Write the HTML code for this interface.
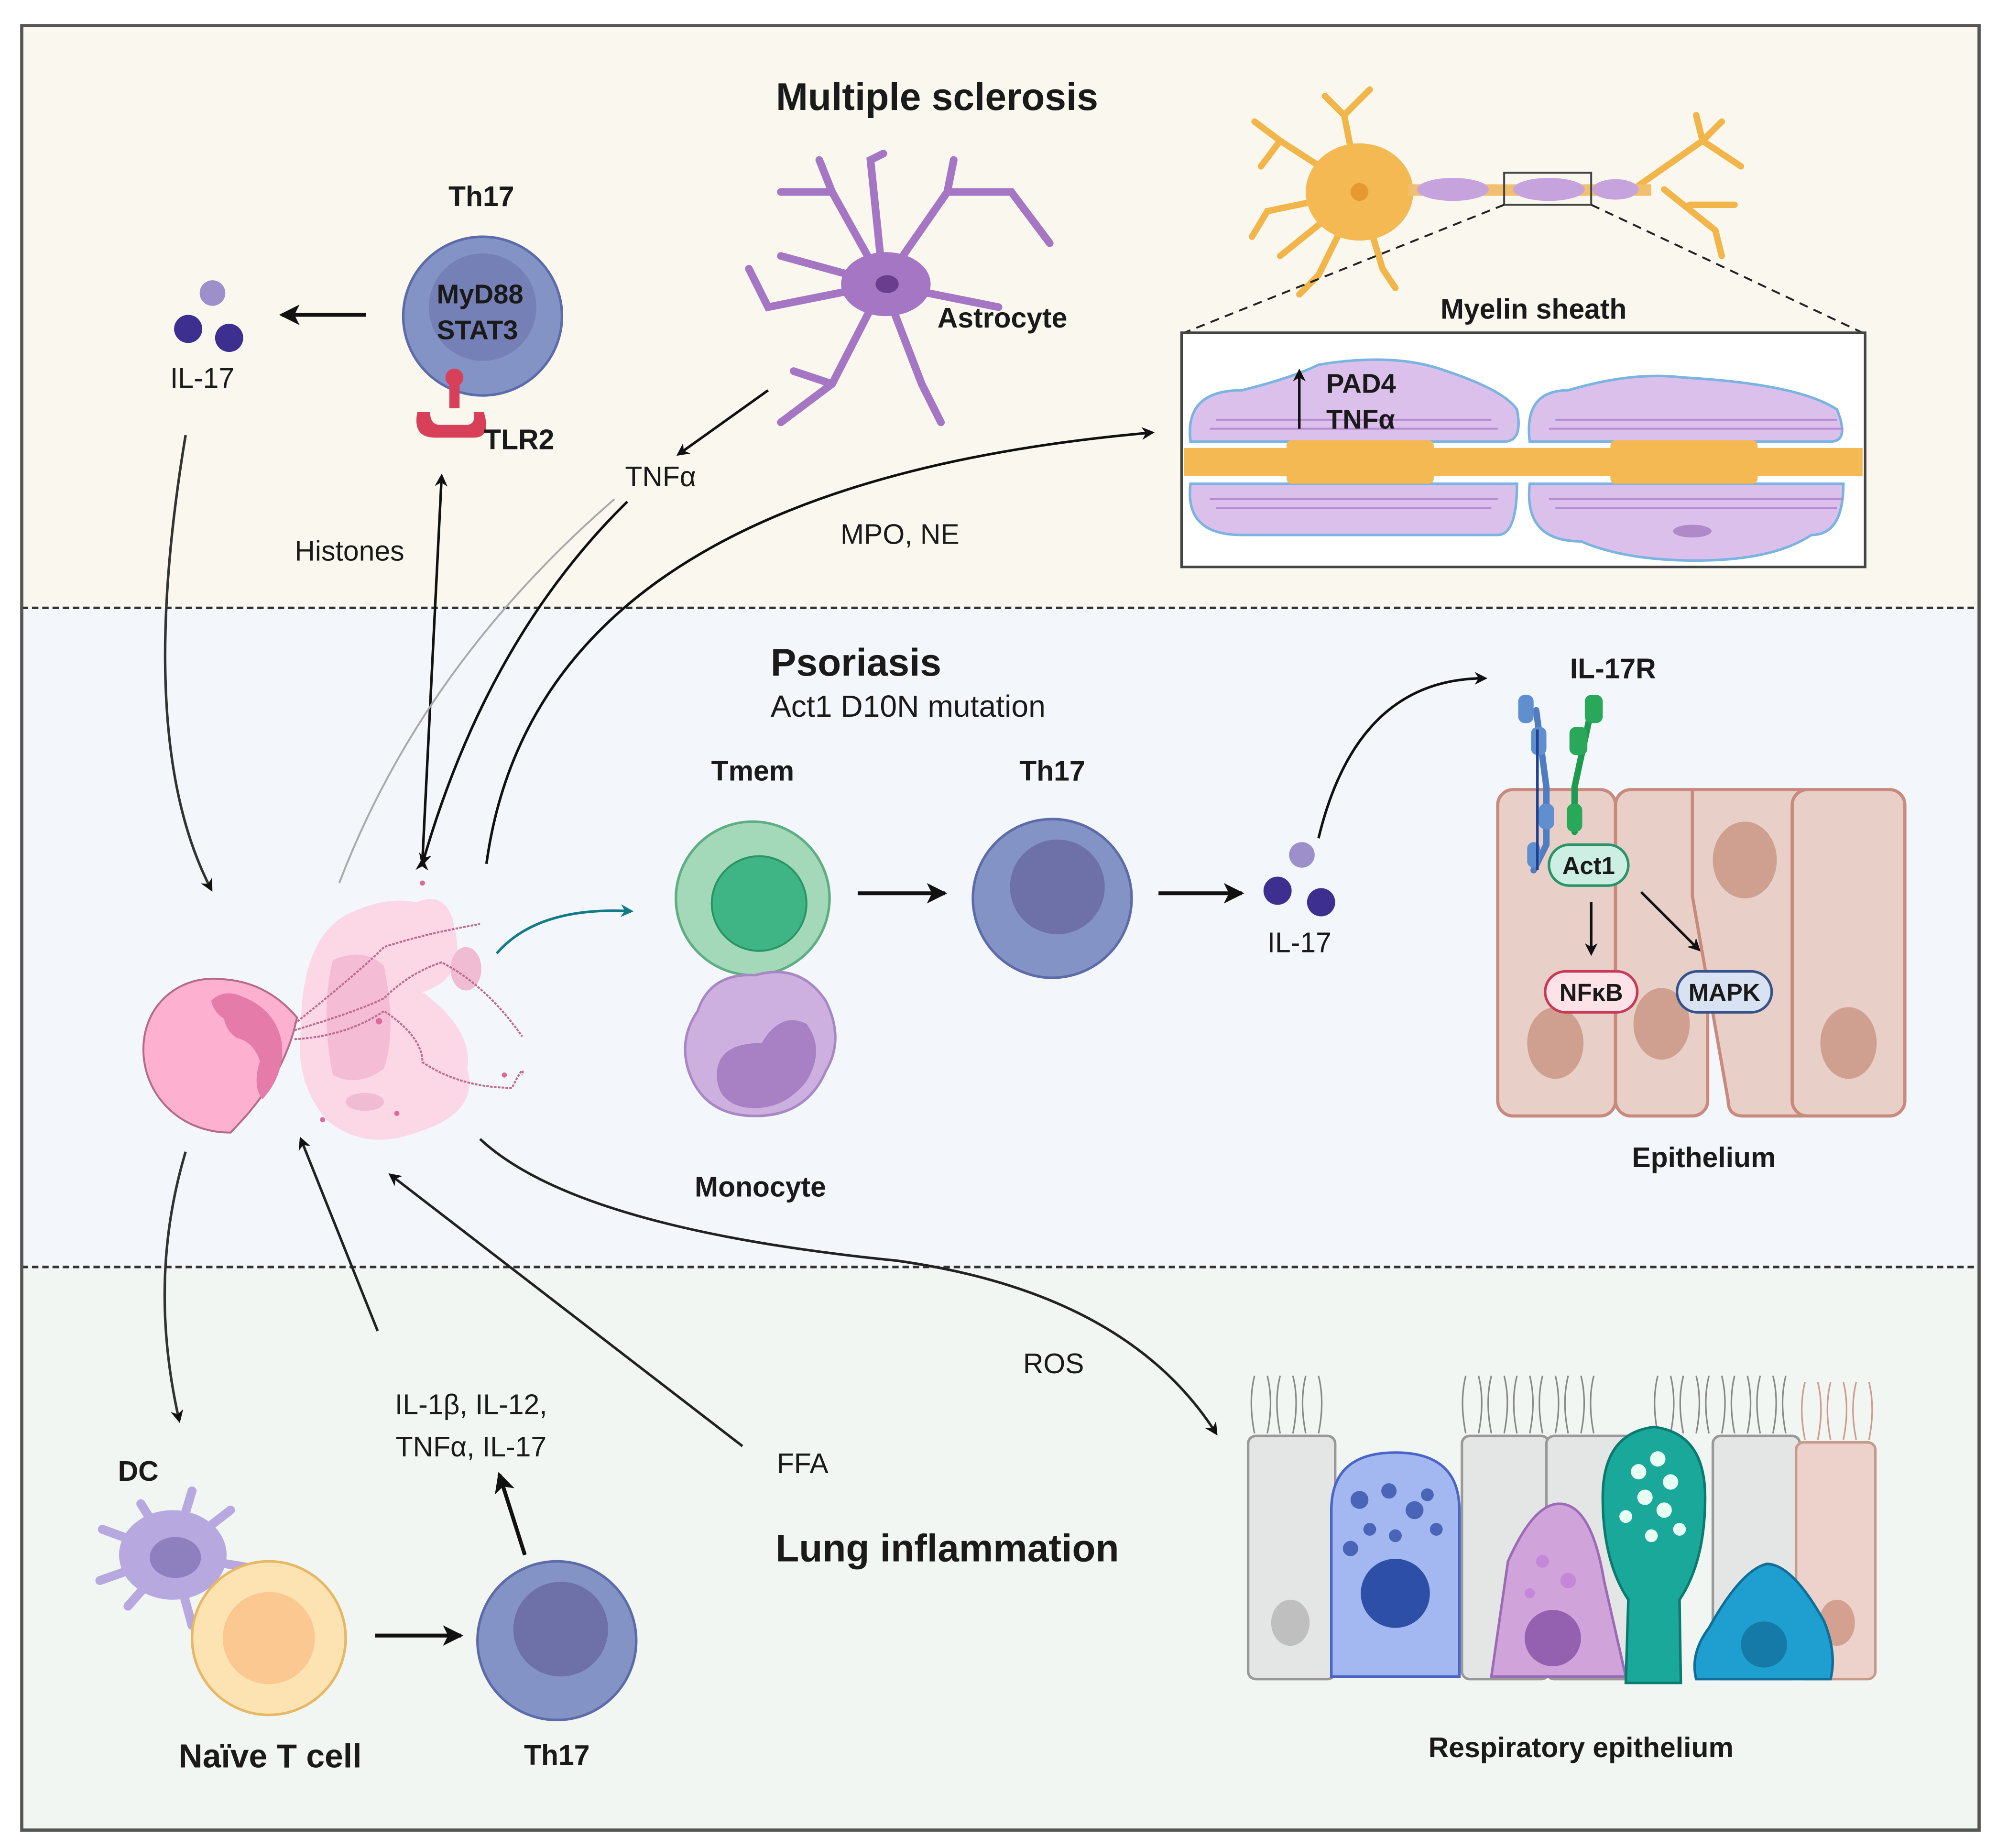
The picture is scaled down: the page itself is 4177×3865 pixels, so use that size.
<!DOCTYPE html>
<html><head><meta charset="utf-8"><style>
html,body{margin:0;padding:0;background:#fff;}
svg{display:block;}
text{font-family:"Liberation Sans",sans-serif;fill:#1a1a1a;}
.b{font-weight:bold;}
</style></head><body>
<svg width="4177" height="3865" viewBox="0 0 1560 1444" preserveAspectRatio="none" xmlns="http://www.w3.org/2000/svg">
<defs>
<marker id="ar" markerWidth="10" markerHeight="10" refX="8" refY="5" orient="auto" markerUnits="userSpaceOnUse"><path d="M0,0 L10,5 L0,10 L3,5z" fill="#111"/></marker>
<marker id="art" markerWidth="10" markerHeight="10" refX="8" refY="5" orient="auto" markerUnits="userSpaceOnUse"><path d="M0,0 L10,5 L0,10 L3,5z" fill="#137a8a"/></marker>
<marker id="arS" markerWidth="16" markerHeight="16" refX="14" refY="8" orient="auto" markerUnits="userSpaceOnUse"><path d="M0,0 L16,8 L0,16 L4,8z" fill="#111"/></marker>
</defs>
<rect x="0" y="0" width="1560" height="1444" fill="#fff"/>
<rect x="17" y="20" width="1529" height="455" fill="#faf8ee"/>
<rect x="17" y="475" width="1529" height="515" fill="#f3f7fc"/>
<rect x="17" y="990" width="1529" height="440" fill="#f1f6f2"/>
<line x1="17" y1="475" x2="1546" y2="475" stroke="#333" stroke-width="2" stroke-dasharray="5,3"/>
<line x1="17" y1="990" x2="1546" y2="990" stroke="#333" stroke-width="2" stroke-dasharray="5,3"/>
<rect x="17" y="20" width="1529" height="1410" fill="none" stroke="#555" stroke-width="2.5"/>

<!-- TOP -->
<text x="732" y="86" font-size="30" class="b" text-anchor="middle">Multiple sclerosis</text>
<text x="376" y="161" font-size="22" class="b" text-anchor="middle">Th17</text>
<circle cx="377" cy="247" r="62" fill="#8393c6" stroke="#5d6ca8" stroke-width="2"/>
<circle cx="377" cy="240" r="42" fill="#7580b6"/>
<text x="375" y="237" font-size="21" class="b" text-anchor="middle" fill="#222">MyD88</text>
<text x="373" y="265" font-size="21" class="b" text-anchor="middle" fill="#222">STAT3</text>
<g fill="#d8405a"><circle cx="355" cy="295" r="7"/><rect x="351" y="295" width="8" height="24"/><path d="M326,322 q-4,20 14,20 l30,0 q14,0 8,-20 l-8,0 q2,10 -6,10 l-20,0 q-8,0 -8,-10z"/></g>
<text x="378" y="351" font-size="22" class="b">TLR2</text>
<line x1="286" y1="246" x2="220" y2="246" stroke="#111" stroke-width="3" marker-end="url(#arS)"/>
<circle cx="166" cy="229" r="10" fill="#9d8fc9"/><circle cx="147" cy="257" r="11" fill="#3c2f8f"/><circle cx="179" cy="264" r="11" fill="#3c2f8f"/>
<text x="158" y="303" font-size="22" text-anchor="middle">IL-17</text>

<!-- Astrocyte -->
<g stroke="#a576c4" stroke-width="6" fill="none" stroke-linecap="round">
<path d="M690,222 L650,150 L640,125 M650,150 L610,150 M690,222 L680,125 L690,120 M690,222 L740,150 L745,125 M740,150 L790,150 L820,190 M690,222 L780,240 M690,222 L720,300 L735,330 M690,222 L650,300 L610,330 M650,300 L620,290 M690,222 L600,240 L585,210 M690,222 L610,200"/>
</g>
<ellipse cx="692" cy="222" rx="35" ry="25" fill="#a576c4"/>
<ellipse cx="693" cy="222" rx="9" ry="7" fill="#6b3d8f"/>
<text x="783" y="256" font-size="22" class="b" text-anchor="middle">Astrocyte</text>
<line x1="600" y1="305" x2="530" y2="355" stroke="#111" stroke-width="2" marker-end="url(#ar)"/>
<text x="516" y="380" font-size="22" text-anchor="middle">TNFα</text>

<!-- Neuron -->
<g stroke="#f2b54a" stroke-width="5" fill="none" stroke-linecap="round">
<path d="M1062,150 L1000,110 L980,95 M1000,110 L985,130 M1062,150 L1050,90 L1035,75 M1050,90 L1070,70 M1062,150 L990,165 L978,185 M1062,150 L1000,200 M1062,150 L1030,215 L1015,230 M1062,150 L1080,210 L1090,225"/>
<path d="M1280,145 L1330,110 L1345,95 M1330,110 L1360,130 M1300,148 L1340,180 L1345,200 M1320,160 L1355,160 M1330,110 L1325,90"/>
</g>
<ellipse cx="1062" cy="150" rx="42" ry="38" fill="#f4b953"/>
<circle cx="1062" cy="150" r="7" fill="#e89830"/>
<rect x="1100" y="144" width="190" height="9" fill="#f0c070"/>
<g fill="#c6a3dd"><ellipse cx="1135" cy="148" rx="28" ry="9"/><ellipse cx="1210" cy="148" rx="28" ry="9"/><ellipse cx="1262" cy="148" rx="18" ry="8"/></g>
<rect x="1175" y="135" width="68" height="25" fill="none" stroke="#444" stroke-width="1.5"/>
<line x1="1175" y1="160" x2="925" y2="260" stroke="#222" stroke-width="1.5" stroke-dasharray="7,5"/>
<line x1="1243" y1="160" x2="1455" y2="260" stroke="#222" stroke-width="1.5" stroke-dasharray="7,5"/>
<text x="1198" y="249" font-size="22" class="b" text-anchor="middle">Myelin sheath</text>
<rect x="923" y="260" width="534" height="183" fill="#fff" stroke="#444" stroke-width="2"/>
<g fill="#dcc0ec" stroke="#7ab4e0" stroke-width="2">
<path d="M930,345 q-5,-40 40,-40 q40,-10 60,-20 q60,-10 100,5 q45,15 55,30 q5,25 -10,25z"/>
<path d="M1195,345 q-5,-40 30,-40 q50,-15 90,-10 q90,5 120,25 q10,25 -5,25z"/>
<path d="M930,378 q-5,40 40,40 l200,0 q15,0 15,-40z"/>
<path d="M1195,378 q-5,45 40,45 q35,15 90,15 q60,0 90,-20 q25,0 25,-40z"/>
</g>
<g stroke="#b88bd0" stroke-width="1.5" fill="none">
<path d="M945,335 L1170,335 M950,328 L1165,328 M1210,335 L1440,335 M1215,328 L1435,328 M945,390 L1170,390 M950,397 L1165,397 M1210,390 L1440,390 M1215,397 L1435,397"/>
</g>
<ellipse cx="1322" cy="415" rx="15" ry="5" fill="#b08ac8"/>
<rect x="925" y="350" width="530" height="22" fill="#f4b953"/>
<rect x="1005" y="344" width="115" height="34" rx="4" fill="#f4b953"/>
<rect x="1258" y="344" width="115" height="34" rx="4" fill="#f4b953"/>
<line x1="1015" y1="335" x2="1015" y2="290" stroke="#111" stroke-width="2" marker-end="url(#ar)"/>
<text x="1036" y="307" font-size="21" class="b">PAD4</text>
<text x="1036" y="335" font-size="21" class="b">TNFα</text>
<text x="703" y="425" font-size="22" text-anchor="middle">MPO, NE</text>
<text x="273" y="438" font-size="22" text-anchor="middle">Histones</text>

<!-- connectors top-mid -->
<path d="M380,675 Q420,380 900,338" fill="none" stroke="#111" stroke-width="2" marker-end="url(#ar)"/>
<path d="M330,672 L345,372" fill="none" stroke="#111" stroke-width="2" marker-end="url(#ar)" marker-start="url(#ar)"/>
<path d="M490,392 Q380,500 330,675" fill="none" stroke="#111" stroke-width="2" marker-end="url(#ar)"/>
<path d="M265,690 Q330,520 480,390" fill="none" stroke="#aaa" stroke-width="1.5"/>
<path d="M145,340 Q105,580 165,695" fill="none" stroke="#333" stroke-width="2" marker-end="url(#ar)"/>

<!-- MIDDLE -->
<text x="602" y="528" font-size="30" class="b">Psoriasis</text>
<text x="602" y="560" font-size="24">Act1 D10N mutation</text>
<text x="588" y="610" font-size="22" class="b" text-anchor="middle">Tmem</text>
<circle cx="588" cy="702" r="60" fill="#a3d9b9" stroke="#5fae83" stroke-width="2"/>
<circle cx="593" cy="706" r="37" fill="#3fb585" stroke="#2a9468" stroke-width="1.5"/>
<path d="M545,790 q10,-30 45,-28 q35,-10 55,20 q15,30 0,55 q-15,35 -55,35 q-40,0 -52,-35 q-8,-25 7,-47z" fill="#cdb0e0" stroke="#a888c4" stroke-width="2"/>
<path d="M560,840 q0,-25 35,-25 q15,-25 35,-15 q15,20 0,45 q-20,25 -50,20 q-20,-5 -20,-25z" fill="#a880c4"/>
<text x="594" y="935" font-size="22" class="b" text-anchor="middle">Monocyte</text>
<line x1="670" y1="698" x2="738" y2="698" stroke="#111" stroke-width="3" marker-end="url(#arS)"/>
<text x="822" y="610" font-size="22" class="b" text-anchor="middle">Th17</text>
<circle cx="822" cy="702" r="62" fill="#8393c6" stroke="#5d6ca8" stroke-width="2"/>
<circle cx="826" cy="693" r="37" fill="#6e70a8"/>
<line x1="905" y1="698" x2="970" y2="698" stroke="#111" stroke-width="3" marker-end="url(#arS)"/>
<circle cx="1017" cy="668" r="10" fill="#9d8fc9"/><circle cx="998" cy="696" r="11" fill="#3c2f8f"/><circle cx="1032" cy="705" r="11" fill="#3c2f8f"/>
<text x="1015" y="744" font-size="22" text-anchor="middle">IL-17</text>
<path d="M1030,655 Q1060,530 1160,530" fill="none" stroke="#111" stroke-width="2" marker-end="url(#ar)"/>
<text x="1260" y="530" font-size="22" class="b" text-anchor="middle">IL-17R</text>

<!-- Epithelium -->
<g fill="#e8d0c8" stroke="#c98a7e" stroke-width="2.5">
<rect x="1170" y="617" width="92" height="255" rx="12"/>
<rect x="1262" y="617" width="72" height="255" rx="12"/>
<path d="M1322,617 L1410,617 L1420,860 q0,12 -12,12 L1362,872 q-12,0 -12,-12 L1322,700z"/>
<rect x="1400" y="617" width="88" height="255" rx="12"/>
</g>
<g fill="#cf9f90"><ellipse cx="1215" cy="815" rx="22" ry="28"/><ellipse cx="1298" cy="800" rx="22" ry="28"/><ellipse cx="1363" cy="672" rx="25" ry="30"/><ellipse cx="1444" cy="815" rx="22" ry="28"/></g>
<g stroke-width="5" fill="none" stroke-linecap="round"><path d="M1200,555 L1208,615 L1208,660 L1198,680" stroke="#4f7dbf"/><path d="M1243,555 L1230,615 L1230,650" stroke="#1f9a50"/></g>
<g fill="#5f8fcf"><rect x="1186" y="543" width="12" height="22" rx="5"/><rect x="1196" y="568" width="12" height="22" rx="5"/><rect x="1202" y="628" width="12" height="20" rx="5"/><rect x="1193" y="658" width="10" height="20" rx="5"/></g>
<g fill="#2aa85a"><rect x="1238" y="543" width="14" height="22" rx="5"/><rect x="1226" y="568" width="14" height="22" rx="5"/><rect x="1224" y="628" width="12" height="22" rx="5"/></g>
<line x1="1201" y1="570" x2="1201" y2="680" stroke="#1f3f8f" stroke-width="2"/>
<rect x="1210" y="660" width="62" height="32" rx="16" fill="#cdeee2" stroke="#2a9468" stroke-width="2"/>
<text x="1241" y="683" font-size="19" class="b" text-anchor="middle">Act1</text>
<line x1="1243" y1="705" x2="1243" y2="745" stroke="#111" stroke-width="2" marker-end="url(#ar)"/>
<line x1="1282" y1="697" x2="1327" y2="742" stroke="#111" stroke-width="2" marker-end="url(#ar)"/>
<rect x="1207" y="759" width="72" height="32" rx="16" fill="#fde2e8" stroke="#c83a55" stroke-width="2"/>
<text x="1243" y="782" font-size="19" class="b" text-anchor="middle">NFκB</text>
<rect x="1310" y="759" width="74" height="32" rx="16" fill="#d9e2f2" stroke="#36528a" stroke-width="2"/>
<text x="1347" y="782" font-size="19" class="b" text-anchor="middle">MAPK</text>
<text x="1331" y="912" font-size="22" class="b" text-anchor="middle">Epithelium</text>

<!-- Neutrophil NET -->
<path d="M270,715 q30,-15 55,-10 q25,-10 30,20 q10,40 -25,50 q40,30 35,60 q10,35 -40,50 q-40,15 -70,-10 q-25,-30 -20,-70 q0,-70 35,-90z" fill="#fcd7e6"/>
<path d="M260,750 q25,-10 40,5 q10,50 0,80 q-20,15 -40,5 q-10,-50 0,-90z" fill="#f4bcd5"/>
<ellipse cx="364" cy="757" rx="12" ry="17" fill="#f0bcd3"/>
<ellipse cx="285" cy="861" rx="15" ry="7" fill="#f0bcd3"/>
<path d="M172,765 C140,762 112,785 112,820 C112,855 140,885 180,885 C205,860 225,830 232,795 C215,775 195,766 172,765z" fill="#fdb0cf" stroke="#b56a8a" stroke-width="1.5"/>
<path d="M165,782 q10,-10 25,-3 q25,10 30,35 q3,25 -15,45 q-8,-10 -2,-30 q-5,-15 -18,-18 q-8,-5 -10,-15 q-8,-5 -10,-14z" fill="#e57ba8"/>
<g fill="none" stroke="#c0698e" stroke-width="1.5" stroke-dasharray="2,1">
<path d="M230,800 Q280,760 300,740 Q330,730 375,722"/>
<path d="M230,805 Q280,790 300,780 Q320,760 345,752 Q380,770 408,810"/>
<path d="M230,812 Q270,810 300,790 Q330,810 330,830 Q360,850 400,850 Q410,830 408,840"/>
</g>
<g fill="#e0689a"><circle cx="330" cy="690" r="2"/><circle cx="252" cy="875" r="2"/><circle cx="296" cy="798" r="2.5"/><circle cx="394" cy="840" r="2"/><circle cx="310" cy="870" r="2"/></g>
<path d="M388,745 Q420,708 493,712" fill="none" stroke="#137a8a" stroke-width="2" marker-end="url(#art)"/>

<!-- bottom connectors -->
<path d="M145,900 Q115,1000 140,1110" fill="none" stroke="#333" stroke-width="2" marker-end="url(#ar)"/>
<line x1="295" y1="1040" x2="235" y2="890" stroke="#222" stroke-width="2" marker-end="url(#ar)"/>
<line x1="580" y1="1130" x2="305" y2="918" stroke="#222" stroke-width="2" marker-end="url(#ar)"/>
<path d="M375,890 Q450,960 700,985 Q880,1010 950,1120" fill="none" stroke="#222" stroke-width="2" marker-end="url(#ar)"/>
<text x="823" y="1073" font-size="22" text-anchor="middle">ROS</text>
<text x="627" y="1151" font-size="22" text-anchor="middle">FFA</text>
<text x="368" y="1105" font-size="22" text-anchor="middle">IL-1β, IL-12,</text>
<text x="368" y="1138" font-size="22" text-anchor="middle">TNFα, IL-17</text>
<line x1="410" y1="1215" x2="390" y2="1152" stroke="#111" stroke-width="3" marker-end="url(#arS)"/>

<!-- BOTTOM -->
<text x="740" y="1220" font-size="30" class="b" text-anchor="middle">Lung inflammation</text>
<text x="108" y="1157" font-size="22" class="b" text-anchor="middle">DC</text>
<g stroke="#b7a8e0" stroke-width="7" stroke-linecap="round" fill="none">
<path d="M135,1215 L110,1175 M135,1215 L150,1165 M135,1215 L180,1180 M135,1215 L195,1225 M135,1215 L80,1195 M135,1215 L78,1235 M135,1215 L150,1270 M135,1215 L100,1255"/>
</g>
<ellipse cx="135" cy="1215" rx="42" ry="35" fill="#b7a8e0"/>
<ellipse cx="137" cy="1217" rx="20" ry="16" fill="#8e7fbf"/>
<circle cx="210" cy="1280" r="60" fill="#fde3b2" stroke="#e7b766" stroke-width="2"/>
<circle cx="210" cy="1280" r="36" fill="#fcc892"/>
<text x="211" y="1381" font-size="26" class="b" text-anchor="middle">Naïve T cell</text>
<line x1="293" y1="1278" x2="360" y2="1278" stroke="#111" stroke-width="3" marker-end="url(#arS)"/>
<circle cx="435" cy="1282" r="62" fill="#8393c6" stroke="#5d6ca8" stroke-width="2"/>
<circle cx="438" cy="1273" r="37" fill="#6e70a8"/>
<text x="435" y="1379" font-size="22" class="b" text-anchor="middle">Th17</text>

<!-- Respiratory epithelium -->
<g stroke="#888" stroke-width="1.2" fill="none">
<path d="M980,1120 q-5,-25 0,-45 M990,1120 q5,-25 0,-45 M1000,1120 q-5,-25 0,-45 M1010,1120 q5,-25 0,-45 M1020,1120 q-5,-25 0,-45 M1030,1120 q5,-25 0,-45
M1145,1120 q-5,-25 0,-45 M1155,1120 q5,-25 0,-45 M1165,1120 q-5,-25 0,-45 M1175,1120 q5,-25 0,-45 M1185,1120 q-5,-25 0,-45 M1195,1120 q5,-25 0,-45 M1205,1120 q-5,-25 0,-45 M1215,1120 q5,-25 0,-45 M1225,1120 q-5,-25 0,-45 M1235,1120 q5,-25 0,-45 M1245,1120 q-5,-25 0,-45
M1295,1120 q-5,-25 0,-45 M1305,1120 q5,-25 0,-45 M1315,1120 q-5,-25 0,-45 M1325,1120 q5,-25 0,-45 M1335,1120 q-5,-25 0,-45 M1345,1120 q5,-25 0,-45 M1355,1120 q-5,-25 0,-45 M1365,1120 q5,-25 0,-45 M1375,1120 q-5,-25 0,-45 M1385,1120 q5,-25 0,-45 M1395,1120 q-5,-25 0,-45"/>
</g>
<g stroke="#d09a8a" stroke-width="1.2" fill="none"><path d="M1410,1125 q-5,-25 0,-45 M1420,1125 q5,-25 0,-45 M1430,1125 q-5,-25 0,-45 M1440,1125 q5,-25 0,-45 M1450,1125 q-5,-25 0,-45 M1460,1125 q5,-25 0,-45"/></g>
<g fill="#e4e6e6" stroke="#999" stroke-width="2">
<rect x="975" y="1122" width="68" height="190" rx="6"/>
<rect x="1142" y="1122" width="68" height="190" rx="6"/>
<rect x="1208" y="1122" width="68" height="190" rx="6"/>
<rect x="1338" y="1122" width="68" height="190" rx="6"/>
</g>
<rect x="1403" y="1127" width="62" height="185" rx="6" fill="#ecd2ca" stroke="#c79a8c" stroke-width="2"/>
<g fill="#c0bfbf"><ellipse cx="1008" cy="1268" rx="15" ry="18"/><ellipse cx="1435" cy="1268" rx="14" ry="18" fill="#d4a090"/></g>
<path d="M1040,1310 L1040,1180 q0,-45 50,-45 q50,0 50,45 L1140,1310z" fill="#a3b8f0" stroke="#4a64c8" stroke-width="2"/>
<g fill="#4a64b8"><circle cx="1062" cy="1172" r="7"/><circle cx="1085" cy="1165" r="6"/><circle cx="1105" cy="1180" r="7"/><circle cx="1122" cy="1195" r="5"/><circle cx="1070" cy="1195" r="5"/><circle cx="1090" cy="1200" r="5"/><circle cx="1055" cy="1210" r="6"/><circle cx="1115" cy="1168" r="5"/></g>
<circle cx="1090" cy="1245" r="27" fill="#2d4fa8"/>
<path d="M1165,1310 L1178,1220 q20,-45 40,-45 q25,0 35,60 L1270,1310z" fill="#d0a4db" stroke="#9b6cb5" stroke-width="2"/>
<circle cx="1213" cy="1280" r="22" fill="#9460b0"/>
<g fill="#c587d8"><circle cx="1205" cy="1220" r="5"/><circle cx="1225" cy="1235" r="6"/><circle cx="1195" cy="1245" r="4"/></g>
<path d="M1270,1315 L1272,1250 q-20,-30 -20,-80 q0,-50 40,-55 q40,5 40,55 q0,50 -20,80 L1313,1315z" fill="#1aa89a" stroke="#0b7a70" stroke-width="2"/>
<g fill="#e8fff4"><circle cx="1280" cy="1150" r="6"/><circle cx="1295" cy="1140" r="6"/><circle cx="1305" cy="1158" r="6"/><circle cx="1285" cy="1170" r="6"/><circle cx="1300" cy="1180" r="6"/><circle cx="1270" cy="1185" r="5"/><circle cx="1312" cy="1195" r="5"/><circle cx="1290" cy="1200" r="5"/></g>
<path d="M1325,1312 q-5,-20 10,-40 q25,-45 45,-50 q20,0 45,45 q10,25 5,45z" fill="#1e9fd0" stroke="#0f6f98" stroke-width="2"/>
<circle cx="1378" cy="1285" r="18" fill="#157aa8"/>
<text x="1235" y="1373" font-size="22" class="b" text-anchor="middle">Respiratory epithelium</text>
</svg>
</body></html>
